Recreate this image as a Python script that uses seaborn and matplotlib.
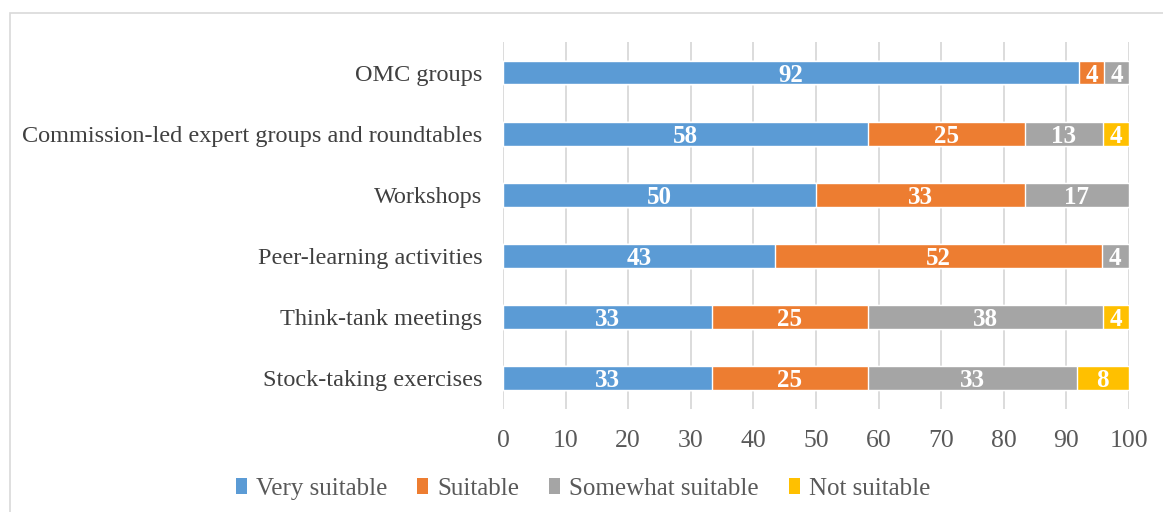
import numpy as np
import pandas as pd
import seaborn as sns
import matplotlib.pyplot as plt
from matplotlib.patches import Patch, Rectangle

categories = [
    "OMC groups",
    "Commission-led expert groups and roundtables",
    "Workshops",
    "Peer-learning activities",
    "Think-tank meetings",
    "Stock-taking exercises",
]
very_suitable = [92.0, 58.33, 50.0, 43.48, 33.33, 33.33]
suitable = [4.0, 25.0, 33.33, 52.17, 25.0, 25.0]
somewhat_suitable = [4.0, 12.5, 16.67, 4.35, 37.5, 33.33]
not_suitable = [0.0, 4.17, 0.0, 0.0, 4.17, 8.33]

series_names = ["Very suitable", "Suitable", "Somewhat suitable", "Not suitable"]
colors = ["#5B9BD5", "#ED7D31", "#A5A5A5", "#FFC000"]
x_ticks = [0, 10, 20, 30, 40, 50, 60, 70, 80, 90, 100]

sns.set_theme(style="white")
plt.rcParams["font.family"] = ["Liberation Serif", "DejaVu Serif"]

df = pd.DataFrame({
    "category": categories,
    series_names[0]: very_suitable,
    series_names[1]: suitable,
    series_names[2]: somewhat_suitable,
    series_names[3]: not_suitable,
})
cum = df[series_names].cumsum(axis=1)

fig = plt.figure(figsize=(11.63, 5.12), dpi=100)
ax = fig.add_axes([0.4325, 0.2012, 0.9708 - 0.4325, 0.918 - 0.2012])

# stacked bars: draw cumulative totals from the back to the front
for name, color in reversed(list(zip(series_names, colors))):
    sns.barplot(data=cum.assign(category=categories), x=name, y="category",
                color=color, width=0.39, saturation=1, ax=ax, zorder=3)

for i, cat in enumerate(categories):
    for name in series_names:
        val = df.loc[i, name]
        if val <= 0:
            continue
        mid = cum.loc[i, name] - val / 2
        ax.text(mid, i, f"{int(val + 0.5)}", ha="center", va="center_baseline",
                color="white", fontsize=18, fontweight="bold", zorder=4)

ax.set_xlim(0, 100)
ax.set_ylim(5.5, -0.5)
ax.set_xticks(x_ticks)
ax.set_xlabel("")
ax.set_ylabel("")
ax.grid(axis="x", color="#D9D9D9", linewidth=1.3, zorder=0)
ax.grid(axis="y", visible=False)
for s in ax.spines.values():
    s.set_visible(False)
ax.tick_params(axis="x", labelsize=18.5, colors="#595959", pad=15, length=0)
ax.tick_params(axis="y", labelsize=17.5, colors="#404040", pad=15, length=0)

handles = [Patch(facecolor=c, edgecolor="none", label=n) for n, c in zip(series_names, colors)]
fig.legend(handles=handles, loc="center", bbox_to_anchor=(583 / 1163, 1 - 489 / 512),
           ncol=4, frameon=False, fontsize=18, handlelength=0.45, handleheight=0.6,
           handletextpad=0.35, columnspacing=1.2, labelcolor="#595959")

fig.patches.append(Rectangle((10 / 1163, -0.1), 1.2, 1 - 13 / 512 + 0.1,
                             transform=fig.transFigure, fill=False,
                             edgecolor="#D9D9D9", linewidth=1.2))

fig.savefig("out.png", dpi=100)
